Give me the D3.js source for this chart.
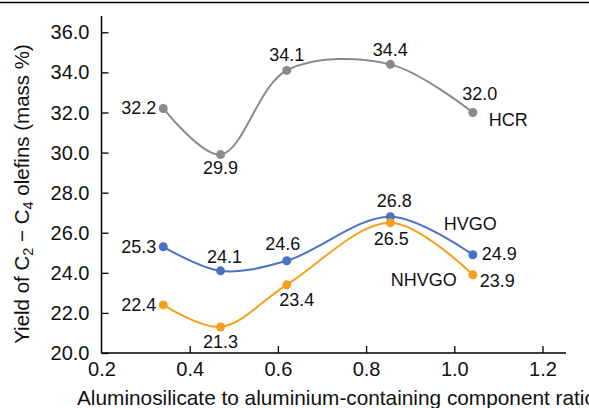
<!DOCTYPE html>
<html>
<head>
<meta charset="utf-8">
<script src="https://cdn.jsdelivr.net/npm/d3@7/dist/d3.min.js"></script>
<style>
  html, body { margin: 0; padding: 0; background: #fff; }
  svg { display: block; font-family: "Liberation Sans", Arial, sans-serif; }
</style>
</head>
<body>
<svg id="chart" width="589" height="408"></svg>
<script>
// Aluminosilicate / Al-containing component ratio for each catalyst sample
const ratios = [0.34, 0.47, 0.62, 0.855, 1.042];

// C2–C4 olefin yields (mass %) per feedstock
const hcr   = [32.2, 29.9, 34.1, 34.4, 32.0];
const hvgo  = [25.3, 24.1, 24.6, 26.8, 24.9];
const nhvgo = [22.4, 21.3, 23.4, 26.5, 23.9];

const seriesNames = ["HCR", "HVGO", "NHVGO"];

const xTicks = [0.2, 0.4, 0.6, 0.8, 1.0, 1.2];
const yTicks = [20, 22, 24, 26, 28, 30, 32, 34, 36];

// label placement for each value label: [dx, dy, anchor]
const labelPlacement = {
  HCR:   [[-7, 6, "end"], [0, 19, "middle"], [0, -9, "middle"], [0, -8, "middle"], [7, -12, "middle"]],
  HVGO:  [[-7, 6, "end"], [4, -8, "middle"], [-4, -11, "middle"], [4, -10, "middle"], [9, 5, "start"]],
  NHVGO: [[-7, 6, "end"], [0, 21, "middle"], [10, 21, "middle"], [1, 22, "middle"], [7, 12, "start"]]
};
// series name placement: [dx, dy] from the last point
const namePlacement = { HCR: [16, 14], HVGO: [-29, -25], NHVGO: [-82, 11] };

const colors = { HCR: "#8a8a8a", HVGO: "#4a72c4", NHVGO: "#f5a01c" };

const svg = d3.select("#chart");

const x = d3.scaleLinear().domain([0.2, 1.2]).range([101.5, 542.5]);
const y = d3.scaleLinear().domain([20, 36]).range([353, 32.3]);

// rule across the top
svg.append("line")
  .attr("x1", 0).attr("x2", 589).attr("y1", 2.5).attr("y2", 2.5)
  .attr("stroke", "#000").attr("stroke-width", 1.5);

// y axis
const yAxis = svg.append("g")
  .attr("transform", `translate(${x(0.2)},0)`)
  .call(d3.axisRight(y).tickValues(yTicks).tickSize(7).tickFormat(d3.format(".1f")));
yAxis.select(".domain").remove();
yAxis.selectAll(".tick line").attr("stroke", "#000").attr("stroke-width", 1.3);
yAxis.selectAll(".tick text")
  .attr("x", -12).attr("dy", "0.33em")
  .attr("text-anchor", "end")
  .style("font-size", "20px").style("font-family", "Liberation Sans, Arial, sans-serif")
  .attr("fill", "#111");
svg.append("line")
  .attr("x1", x(0.2)).attr("x2", x(0.2))
  .attr("y1", 16).attr("y2", y(20))
  .attr("stroke", "#000").attr("stroke-width", 1.5);

// x axis
const xAxis = svg.append("g")
  .attr("transform", `translate(0,${y(20)})`)
  .call(d3.axisTop(x).tickValues(xTicks).tickSize(7).tickFormat(d3.format(".1f")));
xAxis.select(".domain").remove();
xAxis.selectAll(".tick").filter(d => d === 0.2).select("line").remove();
xAxis.selectAll(".tick line").attr("stroke", "#000").attr("stroke-width", 1.3);
xAxis.selectAll(".tick text")
  .attr("y", 23).attr("dy", 0)
  .style("font-size", "20px").style("font-family", "Liberation Sans, Arial, sans-serif")
  .attr("fill", "#111");
svg.append("line")
  .attr("x1", x(0.2)).attr("x2", 566)
  .attr("y1", y(20)).attr("y2", y(20))
  .attr("stroke", "#000").attr("stroke-width", 1.5);

// axis titles
svg.append("text")
  .attr("x", 77).attr("y", 405)
  .style("font-size", "20.8px").attr("fill", "#111")
  .text("Aluminosilicate to aluminium-containing component ratio");

const yTitle = svg.append("text")
  .attr("transform", "translate(29,194) rotate(-90)")
  .attr("text-anchor", "middle")
  .style("font-size", "20.5px").attr("fill", "#111");
yTitle.append("tspan").text("Yield of C");
yTitle.append("tspan").attr("dy", 4).style("font-size", "14.5px").text("2");
yTitle.append("tspan").attr("dy", -4).text(" \u2212 C");
yTitle.append("tspan").attr("dy", 4).style("font-size", "14.5px").text("4");
yTitle.append("tspan").attr("dy", -4).text(" olefins (mass %)");

// series
const line = d3.line()
  .x(d => x(d.r))
  .y(d => y(d.v))
  .curve(d3.curveCatmullRom.alpha(0.5));

const allSeries = { HCR: hcr, HVGO: hvgo, NHVGO: nhvgo };

seriesNames.forEach(name => {
  const pts = ratios.map((r, i) => ({ r, v: allSeries[name][i] }));
  const g = svg.append("g");
  g.append("path")
    .datum(pts)
    .attr("d", line)
    .attr("fill", "none")
    .attr("stroke", colors[name])
    .attr("stroke-width", 2);
  g.selectAll("circle")
    .data(pts)
    .join("circle")
    .attr("cx", d => x(d.r))
    .attr("cy", d => y(d.v))
    .attr("r", 4.5)
    .attr("fill", colors[name]);
  g.selectAll("text.val")
    .data(pts)
    .join("text")
    .attr("class", "val")
    .attr("x", (d, i) => x(d.r) + labelPlacement[name][i][0])
    .attr("y", (d, i) => y(d.v) + labelPlacement[name][i][1])
    .attr("text-anchor", (d, i) => labelPlacement[name][i][2])
    .style("font-size", "18px")
    .attr("fill", "#111")
    .text(d => d.v.toFixed(1));
  const last = pts[pts.length - 1];
  g.append("text")
    .attr("x", x(last.r) + namePlacement[name][0])
    .attr("y", y(last.v) + namePlacement[name][1])
    .style("font-size", "18px")
    .attr("fill", "#111")
    .text(name);
});
</script>
</body>
</html>
